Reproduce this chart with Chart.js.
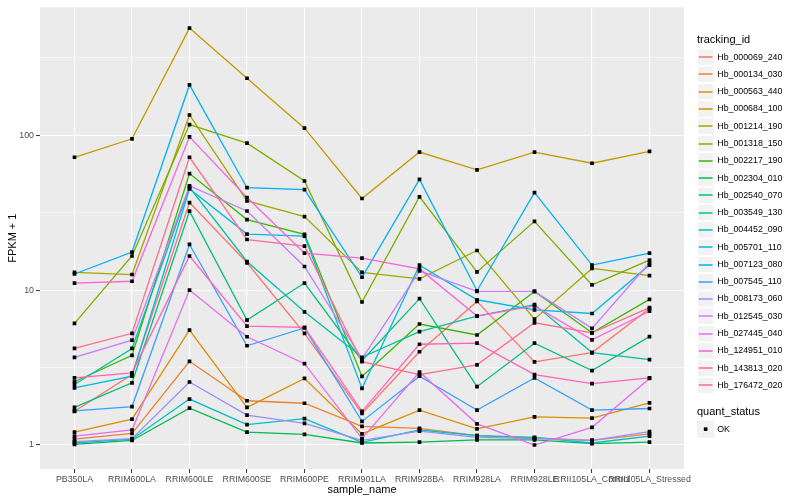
<!DOCTYPE html>
<html>
<head>
<meta charset="utf-8">
<script src="https://cdn.jsdelivr.net/npm/chart.js@4.4.1/dist/chart.umd.min.js"></script>
<style>
  html, body { margin: 0; padding: 0; background: #ffffff; }
  canvas { display: block; }
</style>
</head>
<body>
<canvas id="chart" width="800" height="500"></canvas>
<script>
// Data
const samples = ['PB350LA', 'RRIM600LA', 'RRIM600LE', 'RRIM600SE', 'RRIM600PE', 'RRIM901LA',
  'RRIM928BA', 'RRIM928LA', 'RRIM928LE', 'RRII105LA_Control', 'RRII105LA_Stressed'];

const trackingIds = ['Hb_000069_240', 'Hb_000134_030', 'Hb_000563_440', 'Hb_000684_100', 'Hb_001214_190',
  'Hb_001318_150', 'Hb_002217_190', 'Hb_002304_010', 'Hb_002540_070', 'Hb_003549_130',
  'Hb_004452_090', 'Hb_005701_110', 'Hb_007123_080', 'Hb_007545_110', 'Hb_008173_060',
  'Hb_012545_030', 'Hb_027445_040', 'Hb_124951_010', 'Hb_143813_020', 'Hb_176472_020'];

// FPKM + 1, one array per tracking_id, in sample order
const hb_000069_240 = [1.65, 2.85, 36.7, 15.0, 5.26, 1.6, 4.0, 8.45, 3.44, 3.95, 7.6];
const hb_000134_030 = [1.09, 1.19, 3.47, 1.93, 1.86, 1.32, 1.28, 1.15, 1.11, 1.07, 1.18];
const hb_000563_440 = [1.21, 1.47, 5.52, 1.75, 2.69, 1.18, 1.68, 1.27, 1.52, 1.49, 1.87];
const hb_000684_100 = [72, 94.7, 491, 233, 111, 39, 77.8, 59.7, 77.8, 65.9, 78.6];
const hb_001214_190 = [13.0, 12.6, 135, 37.6, 29.8, 13.0, 11.8, 18.0, 6.49, 13.8, 12.4];
const hb_001318_150 = [6.1, 16.6, 117, 88.8, 50.6, 8.38, 40.0, 13.1, 27.8, 10.8, 15.6];
const hb_002217_190 = [2.56, 3.79, 56.5, 28.5, 22.9, 2.77, 6.04, 5.13, 9.8, 5.3, 8.71];
const hb_002304_010 = [1.01, 1.07, 1.73, 1.21, 1.17, 1.03, 1.045, 1.08, 1.08, 1.02, 1.045];
const hb_002540_070 = [1.75, 2.52, 32.3, 6.4, 11.1, 3.5, 8.8, 2.38, 4.54, 3.02, 5.01];
const hb_003549_130 = [2.46, 4.2, 46, 15.3, 7.24, 3.68, 5.39, 6.79, 8.06, 3.95, 3.56];
const hb_004452_090 = [1.03, 1.09, 1.98, 1.355, 1.48, 1.04, 1.25, 1.15, 1.12, 1.03, 1.14];
const hb_005701_110 = [2.34, 2.78, 45, 23.0, 22.3, 2.32, 14.5, 8.66, 7.45, 7.06, 14.5];
const hb_007123_080 = [12.7, 17.6, 211, 45.8, 44.5, 12.1, 51.8, 9.9, 42.6, 14.5, 17.3];
const hb_007545_110 = [1.66, 1.77, 19.7, 4.37, 5.7, 1.42, 2.78, 1.68, 2.71, 1.68, 1.72];
const hb_008173_060 = [1.05, 1.1, 2.55, 1.56, 1.38, 1.07, 1.23, 1.12, 1.10, 1.07, 1.22];
const hb_012545_030 = [3.68, 4.75, 47, 32.4, 14.2, 3.6, 13.3, 9.8, 9.8, 5.66, 15.0];
const hb_027445_040 = [1.14, 1.25, 10.0, 5.0, 3.35, 1.1, 2.96, 1.37, 1.0, 1.30, 2.69];
const hb_124951_010 = [11.1, 11.4, 97.5, 39.6, 17.3, 16.1, 13.7, 6.79, 7.9, 4.77, 7.3];
const hb_143813_020 = [2.71, 2.92, 16.6, 5.86, 5.74, 1.65, 4.47, 4.54, 2.85, 2.49, 2.71];
const hb_176472_020 = [4.2, 5.26, 72, 21.2, 19.2, 3.45, 2.85, 3.29, 6.15, 5.3, 7.7];

const seriesValues = [hb_000069_240, hb_000134_030, hb_000563_440, hb_000684_100, hb_001214_190,
  hb_001318_150, hb_002217_190, hb_002304_010, hb_002540_070, hb_003549_130,
  hb_004452_090, hb_005701_110, hb_007123_080, hb_007545_110, hb_008173_060,
  hb_012545_030, hb_027445_040, hb_124951_010, hb_143813_020, hb_176472_020];

// ggplot hue palette, 20 levels
const colors = ['#F8766D', '#EA8331', '#D89000', '#C09B00', '#A3A500', '#7CAE00', '#39B600', '#00BB4E',
  '#00BF7D', '#00C1A3', '#00BFC4', '#00BAE0', '#00B0F6', '#35A2FF', '#9590FF', '#C77CFF',
  '#E76BF3', '#FA62DB', '#FF62BC', '#FF6C91'];

const yMajorTicks = [1, 10, 100];
const yMinorTicks = [3.1623, 31.623, 316.23];
const quantStatus = ['OK'];

const FONT = '"Liberation Sans", Arial, Helvetica, sans-serif';

// Datasets
let datasets = seriesValues.map((vals, k) => ({
  label: trackingIds[k],
  data: vals.map((v, i) => ({x: i, y: v})),
  borderColor: colors[k],
  backgroundColor: colors[k],
  borderWidth: 1.3,
  pointRadius: 0,
  tension: 0,
  fill: false,
  order: seriesValues.length - k
}));
let allPoints = [];
seriesValues.forEach(vals => vals.forEach((v, i) => allPoints.push({x: i, y: v})));
datasets.push({
  label: 'OK',
  data: allPoints,
  showLine: false,
  pointStyle: 'rect',
  pointRadius: 2.6,
  pointBorderWidth: 0,
  pointBackgroundColor: '#000000',
  borderColor: '#000000',
  order: -1
});

const isMajor = (v) => yMajorTicks.some(m => Math.abs(m - v) < 1e-6);

// Plugins
const panelBackground = {
  id: 'panelBackground',
  beforeDraw(chart) {
    let a = chart.chartArea;
    let c = chart.ctx;
    c.save();
    c.fillStyle = '#EBEBEB';
    c.fillRect(a.left, a.top, a.right - a.left, a.bottom - a.top);
    c.restore();
  }
};

const ggLegend = {
  id: 'ggLegend',
  afterDraw(chart) {
    let c = chart.ctx;
    let x0 = 697, key = 17.28, y0 = 48.5;
    c.save();
    c.textBaseline = 'middle';
    c.textAlign = 'left';
    c.fillStyle = '#000000';
    c.font = '11px ' + FONT;
    c.fillText('tracking_id', x0, 40);
    c.font = '8.8px ' + FONT;
    trackingIds.forEach((id, i) => {
      let top = y0 + key * i;
      c.fillStyle = '#F2F2F2';
      c.fillRect(x0, top, key, key);
      c.strokeStyle = '#FFFFFF';
      c.lineWidth = 1;
      c.strokeRect(x0 + 0.5, top + 0.5, key - 1, key - 1);
      c.strokeStyle = colors[i];
      c.lineWidth = 1.5;
      c.beginPath();
      c.moveTo(x0 + 1.7, Math.round(top + key / 2));
      c.lineTo(x0 + key - 1.7, Math.round(top + key / 2));
      c.stroke();
      c.fillStyle = '#000000';
      c.fillText(id, x0 + key + 3, top + key / 2);
    });
    c.font = '11px ' + FONT;
    c.fillText('quant_status', x0, 412);
    let top = 420.5;
    c.fillStyle = '#F2F2F2';
    c.fillRect(x0, top, key, key);
    c.fillStyle = '#000000';
    c.fillRect(x0 + key / 2 - 1.8, top + key / 2 - 1.8, 3.6, 3.6);
    c.font = '8.8px ' + FONT;
    c.fillText(quantStatus[0], x0 + key + 3, top + key / 2);
    c.restore();
  }
};

// Chart
let canvas = document.getElementById('chart');
let chart = new Chart(canvas.getContext('2d'), {
  type: 'line',
  data: { datasets: datasets },
  options: {
    responsive: false,
    animation: false,
    devicePixelRatio: 1,
    layout: { padding: { top: 5, right: 116, left: 0, bottom: 0 } },
    plugins: {
      legend: { display: false },
      tooltip: { enabled: false }
    },
    scales: {
      x: {
        type: 'linear',
        min: -0.6,
        max: samples.length - 1 + 0.6,
        afterBuildTicks: (scale) => { scale.ticks = samples.map((s, i) => ({value: i})); },
        afterFit: (scale) => { scale.height = 31; },
        ticks: {
          autoSkip: false,
          maxRotation: 0,
          minRotation: 0,
          padding: 1,
          color: '#4D4D4D',
          font: { family: FONT, size: 8.8 },
          callback: (v) => samples[v]
        },
        grid: { color: '#FFFFFF', lineWidth: 1.1, tickColor: '#333333', tickLength: 4, tickWidth: 1 },
        border: { display: false },
        title: {
          display: true,
          text: 'sample_name',
          color: '#000000',
          font: { family: FONT, size: 11 },
          padding: { top: 0, bottom: 3 }
        }
      },
      y: {
        type: 'logarithmic',
        min: 0.733,
        max: 669,
        afterBuildTicks: (scale) => {
          scale.ticks = yMajorTicks.concat(yMinorTicks).sort((a, b) => a - b).map(v => ({value: v}));
        },
        afterFit: (scale) => { scale.width = 40; },
        ticks: {
          padding: 2,
          color: '#4D4D4D',
          font: { family: FONT, size: 8.8 },
          callback: (v) => isMajor(v) ? String(Math.round(v)) : ''
        },
        grid: {
          color: '#FFFFFF',
          lineWidth: (ctx) => (ctx.tick && isMajor(ctx.tick.value)) ? 1.1 : 0.55,
          tickColor: (ctx) => (ctx.tick && isMajor(ctx.tick.value)) ? '#333333' : 'rgba(0,0,0,0)',
          tickLength: 4,
          tickWidth: 1
        },
        border: { display: false },
        title: {
          display: true,
          text: 'FPKM + 1',
          color: '#000000',
          font: { family: FONT, size: 11 },
          padding: { top: 6, bottom: 0 }
        }
      }
    }
  },
  plugins: [panelBackground, ggLegend]
});
</script>
</body>
</html>
